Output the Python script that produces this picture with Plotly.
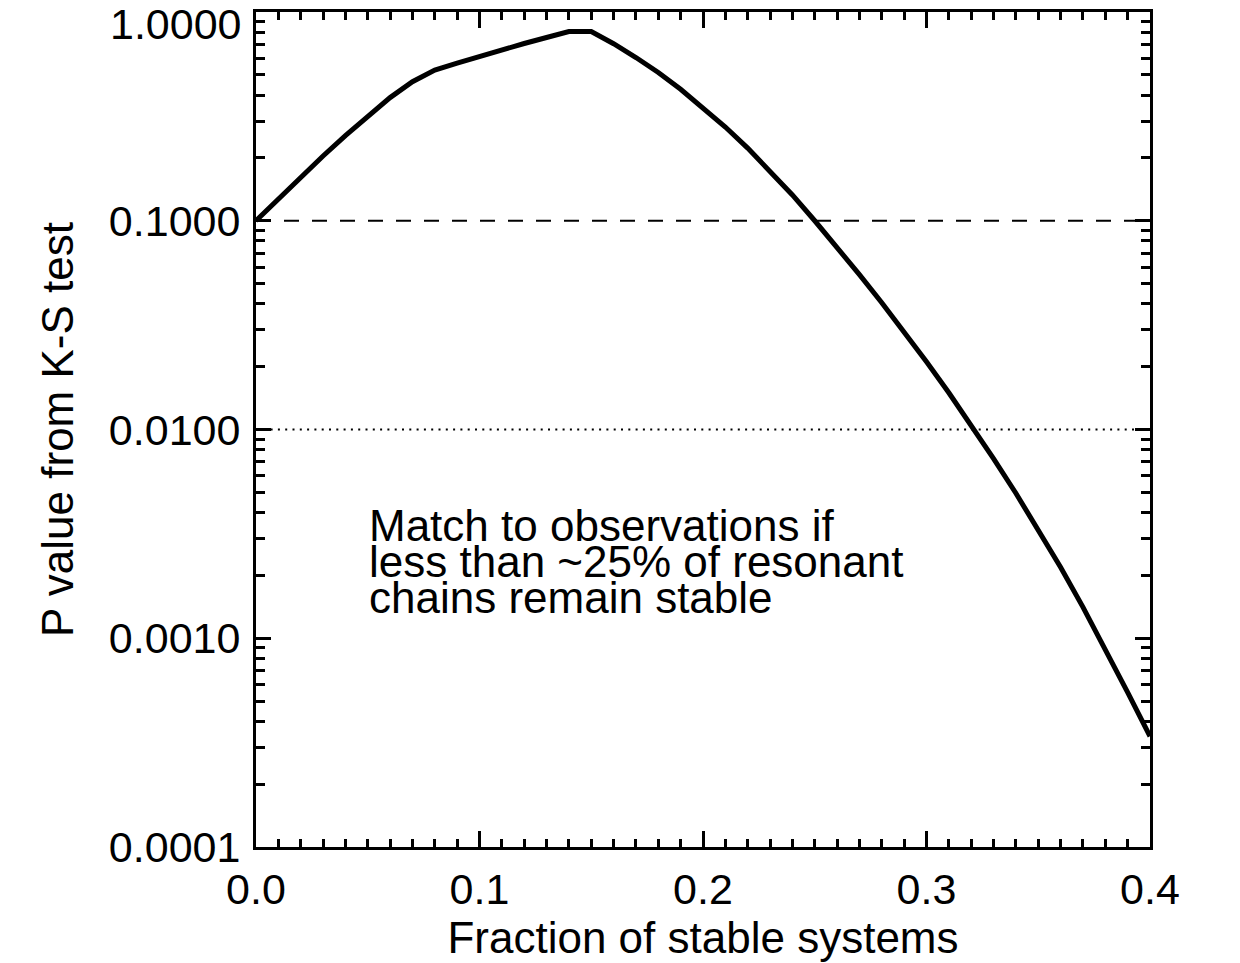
import plotly.graph_objects as go

# Data
fraction_stable = [0.00, 0.01, 0.02, 0.03, 0.04, 0.05, 0.06, 0.07, 0.08, 0.09,
                   0.10, 0.11, 0.12, 0.13, 0.14, 0.15, 0.16, 0.17, 0.18, 0.19,
                   0.20, 0.21, 0.22, 0.23, 0.24, 0.25, 0.26, 0.27, 0.28, 0.29,
                   0.30, 0.31, 0.32, 0.33, 0.34, 0.35, 0.36, 0.37, 0.38, 0.39,
                   0.40]
p_value = [0.1000, 0.1274, 0.1614, 0.2042, 0.2559, 0.3184, 0.3890, 0.4634, 0.5272, 0.5689,
           0.6138, 0.6592, 0.7063, 0.7551, 0.8054, 0.8054, 0.7047, 0.6053, 0.5129, 0.4266,
           0.3491, 0.2812, 0.2228, 0.1738, 0.1330, 0.1000, 0.0746, 0.0552, 0.0405, 0.0294,
           0.0211, 0.0150, 0.0105, 0.00726, 0.00495, 0.00333, 0.00219, 0.00141, 0.000891, 0.000550,
           0.000339]

y_tick_vals = [0.0001, 0.001, 0.01, 0.1, 1.0]
y_tick_text = ["0.0001", "0.0010", "0.0100", "0.1000", "1.0000"]
x_tick_vals = [0.0, 0.1, 0.2, 0.3, 0.4]
x_tick_text = ["0.0", "0.1", "0.2", "0.3", "0.4"]

dashed_level = 0.1
dotted_level = 0.01

note_lines = ["Match to observations if",
              "less than ~25% of resonant",
              "chains remain stable"]

FONT = "Liberation Sans, Arial, Helvetica, sans-serif"

fig = go.Figure()
fig.add_trace(go.Scatter(x=fraction_stable, y=p_value, mode="lines",
                         line=dict(color="black", width=5), showlegend=False))

fig.add_shape(type="line", xref="x", yref="y", x0=0, x1=0.4,
              y0=dashed_level, y1=dashed_level,
              line=dict(color="black", width=2, dash="15px,13px"))
fig.add_shape(type="line", xref="x", yref="y", x0=0, x1=0.4,
              y0=dotted_level, y1=dotted_level,
              line=dict(color="black", width=2, dash="2px,5.3px"))

# annotation lines (tight IDL-style spacing)
note_y_px = [525, 561, 597]
for txt, ypx in zip(note_lines, note_y_px):
    fig.add_annotation(text=txt, xref="paper", yref="paper",
                       x=(367 - 256) / 894, y=(847 - ypx) / 835,
                       xanchor="left", yanchor="middle", showarrow=False,
                       font=dict(family=FONT, size=44, color="black"))

# top tick label is nudged down inside the page, as in the reference
axis_tick_text = y_tick_text[:-1] + [""]
fig.add_annotation(text=y_tick_text[-1], xref="paper", yref="paper",
                   x=0, y=1, xanchor="right", yanchor="top",
                   xshift=-12, yshift=14, showarrow=False,
                   font=dict(family=FONT, size=43, color="black"))

fig.update_xaxes(range=[0, 0.4], tickvals=x_tick_vals, ticktext=x_tick_text,
                 ticks="inside", ticklen=16, tickwidth=3, tickcolor="black",
                 showline=True, linewidth=3, linecolor="black", mirror="allticks",
                 showgrid=False, zeroline=False,
                 minor=dict(ticks="inside", dtick=0.01, ticklen=8, tickwidth=2.5,
                            tickcolor="black", showgrid=False),
                 tickfont=dict(family=FONT, size=43, color="black"),
                 ticklabelstandoff=2, ticklabeloverflow="allow",
                 title=dict(text="Fraction of stable systems", standoff=6,
                            font=dict(family=FONT, size=44, color="black")))
fig.update_yaxes(type="log", range=[-4, 0], tickvals=y_tick_vals, ticktext=axis_tick_text,
                 ticks="inside", ticklen=15, tickwidth=3, tickcolor="black",
                 showline=True, linewidth=3, linecolor="black", mirror="allticks",
                 showgrid=False, zeroline=False,
                 minor=dict(ticks="inside", dtick="D1", ticklen=9, tickwidth=2.5,
                            tickcolor="black", showgrid=False),
                 tickfont=dict(family=FONT, size=43, color="black"),
                 ticklabelstandoff=4, ticklabeloverflow="allow",
                 title=dict(text="P value from K-S test", standoff=22,
                            font=dict(family=FONT, size=44, color="black")))

fig.update_layout(width=1240, height=963,
                  margin=dict(l=256, r=90, t=12, b=116, autoexpand=False),
                  plot_bgcolor="white", paper_bgcolor="white",
                  showlegend=False)

fig.write_html("out.html")
